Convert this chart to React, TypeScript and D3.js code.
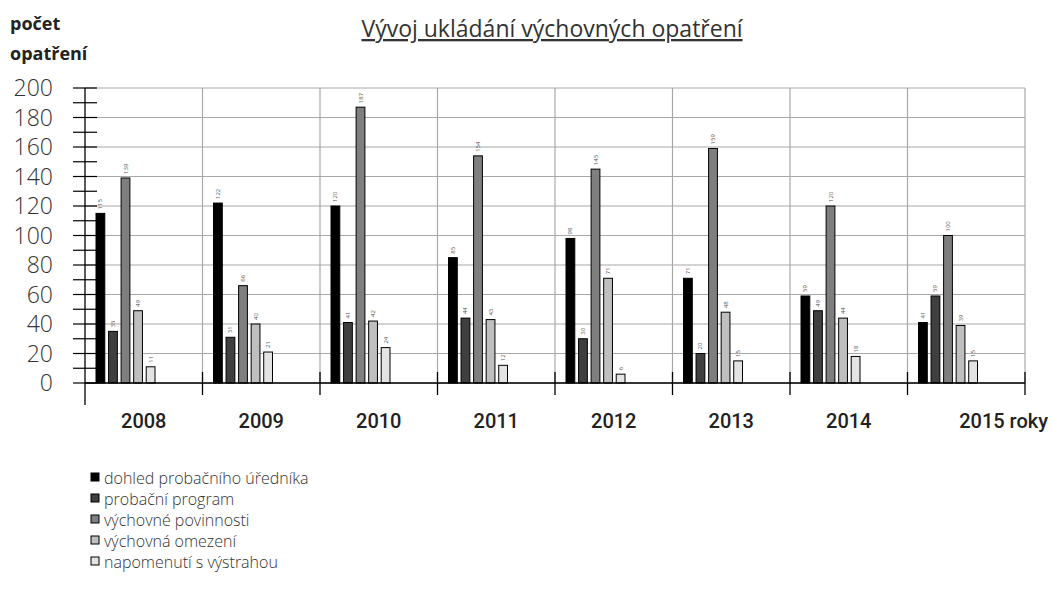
import React from 'react';
import * as d3 from 'd3';

const years = ['2008', '2009', '2010', '2011', '2012', '2013', '2014', '2015'];
const seriesNames = [
  'dohled probačního úředníka',
  'probační program',
  'výchovné povinnosti',
  'výchovná omezení',
  'napomenutí s výstrahou',
];
const dohled = [115, 122, 120, 85, 98, 71, 59, 41];
const program = [35, 31, 41, 44, 30, 20, 49, 59];
const povinnosti = [139, 66, 187, 154, 145, 159, 120, 100];
const omezeni = [49, 40, 42, 43, 71, 48, 44, 39];
const napomenuti = [11, 21, 24, 12, 6, 15, 18, 15];
const series = [dohled, program, povinnosti, omezeni, napomenuti];
const colors = ['#000000', '#3f3f3f', '#7f7f7f', '#bfbfbf', '#e3e3e3'];
const yTicks = d3.range(0, 201, 20);
const yMinor = d3.range(0, 201, 10);

const W = 1053;
const H = 590;
const left = 85;
const right = 1025;
const top = 88;
const bottom = 383;
const font = "'Open Sans', 'DejaVu Sans', sans-serif";
const boldFont = "Roboto, 'Open Sans', sans-serif";

export default function App() {
  const x = d3.scaleBand<string>().domain(years).range([left, right]);
  const inner = d3
    .scaleBand<number>()
    .domain(d3.range(series.length))
    .range([11, 70])
    .paddingInner(0.3);
  const y = d3.scaleLinear().domain([0, 200]).range([bottom, top]);
  const last = years.length - 1;

  return (
    <div style={{ position: 'fixed', left: 0, top: 0, width: W, height: H, overflow: 'hidden' }}>
      <svg width={W} height={H} style={{ display: 'block', background: '#fff' }}>
        {/* horizontal grid */}
        {yTicks.map((t) => (
          <line key={'h' + t} x1={left} x2={right} y1={y(t)} y2={y(t)} stroke="#a8a8a8" strokeWidth={1.2} />
        ))}
        {/* vertical grid */}
        {years.map((yr) => (
          <line
            key={'v' + yr}
            x1={(x(yr) ?? 0) + x.bandwidth()}
            x2={(x(yr) ?? 0) + x.bandwidth()}
            y1={top}
            y2={bottom}
            stroke="#a8a8a8"
            strokeWidth={1.2}
          />
        ))}

        {/* bars */}
        {years.map((yr, i) =>
          series.map((s, k) => {
            const bx = (x(yr) ?? 0) + (inner(k) ?? 0);
            const v = s[i];
            return (
              <g key={yr + '-' + k}>
                <rect
                  x={bx}
                  y={y(v)}
                  width={inner.bandwidth()}
                  height={bottom - y(v)}
                  fill={colors[k]}
                  stroke="#000"
                  strokeWidth={1}
                />
                <text
                  transform={`translate(${bx + inner.bandwidth() / 2 + 2},${y(v) - 4}) rotate(-90)`}
                  fontSize={6}
                  fontFamily={font}
                  fill="#555"
                >
                  {v}
                </text>
              </g>
            );
          })
        )}

        {/* y axis */}
        <line x1={left} x2={left} y1={top} y2={405} stroke="#000" strokeWidth={1.3} />
        {yMinor.map((t) => (
          <line key={'yt' + t} x1={left - 12} x2={left + 12} y1={y(t)} y2={y(t)} stroke="#000" strokeWidth={1.2} />
        ))}
        {yTicks.map((t) => (
          <text
            key={'yl' + t}
            x={53}
            y={y(t)}
            dy="0.36em"
            textAnchor="end"
            fontSize={23}
            fontWeight={300}
            fontFamily={font}
            fill="#333"
          >
            {t}
          </text>
        ))}

        {/* x axis */}
        <line x1={left} x2={right} y1={bottom} y2={bottom} stroke="#000" strokeWidth={1.3} />
        {years.map((yr) => (
          <line
            key={'xt' + yr}
            x1={(x(yr) ?? 0) + x.bandwidth()}
            x2={(x(yr) ?? 0) + x.bandwidth()}
            y1={bottom - 11}
            y2={bottom + 12}
            stroke="#000"
            strokeWidth={1.3}
          />
        ))}
        {years.map((yr, i) => (
          <text
            key={'xl' + yr}
            x={i === last ? 1048 : (x(yr) ?? 0) + x.bandwidth() / 2}
            y={428}
            textAnchor={i === last ? 'end' : 'middle'}
            fontSize={20}
            fontWeight={500}
            fontFamily={boldFont}
            fill="#222"
          >
            {i === last ? yr + ' roky' : yr}
          </text>
        ))}

        {/* axis title */}
        <text x={10} y={30} fontSize={18} fontWeight={700} fontFamily={font} fill="#222">
          počet
        </text>
        <text x={10} y={60} fontSize={18} fontWeight={700} fontFamily={font} fill="#222">
          opatření
        </text>

        {/* title */}
        <text
          x={552}
          y={37}
          textAnchor="middle"
          fontSize={23}
          fontFamily={font}
          fill="#333"
          textDecoration="underline"
        >
          Vývoj ukládání výchovných opatření
        </text>

        {/* legend */}
        {seriesNames.map((n, k) => (
          <g key={'lg' + k} transform={`translate(91,${478 + k * 21})`}>
            <rect x={0} y={-5} width={8} height={8} fill={colors[k]} stroke="#000" strokeWidth={1} />
            <text x={13} y={0} dy="0.36em" fontSize={16} fontWeight={300} fontFamily={font} fill="#333">
              {n}
            </text>
          </g>
        ))}
      </svg>
    </div>
  );
}
